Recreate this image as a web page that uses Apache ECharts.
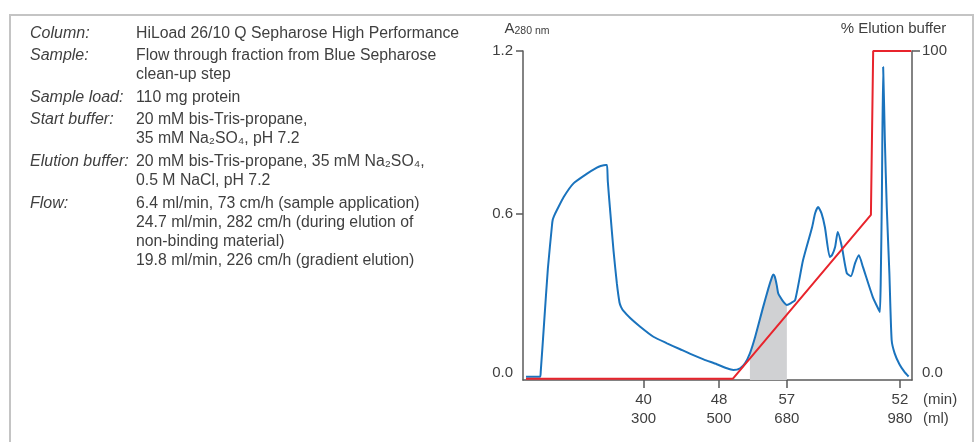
<!DOCTYPE html>
<html><head><meta charset="utf-8">
<script src="https://cdn.jsdelivr.net/npm/echarts@6/dist/echarts.min.js"></script>
<style>html,body{margin:0;padding:0;background:#fff}#c{width:976px;height:442px}</style>
</head><body><div id="c"></div>
<script>
// Absorbance trace (x in ml, y in A280)
const blueMl = [-12, 25, 27, 36, 46, 57, 59, 62, 70, 88, 114, 150, 176, 186, 200, 203, 205, 212, 220, 229, 236, 240, 246, 265, 291, 326, 362, 397, 424, 459, 494, 521, 538, 556, 569, 582, 596, 617, 631, 641, 644, 648, 653, 657, 662, 671, 680, 691, 702, 723, 747, 755, 763, 772, 781, 794, 800, 808, 815, 826, 839, 850, 861, 871, 882, 908, 925, 927, 929, 932, 935.5, 940, 945, 952, 958, 966, 979, 992, 1003];
const blueA  = [0.002, 0.002, 0.02, 0.2, 0.4, 0.56, 0.58, 0.592, 0.615, 0.663, 0.713, 0.749, 0.771, 0.777, 0.781, 0.781, 0.72, 0.6, 0.468, 0.345, 0.275, 0.259, 0.245, 0.217, 0.186, 0.149, 0.125, 0.103, 0.086, 0.066, 0.048, 0.033, 0.027, 0.033, 0.051, 0.088, 0.149, 0.258, 0.327, 0.37, 0.378, 0.37, 0.34, 0.309, 0.296, 0.277, 0.266, 0.273, 0.284, 0.431, 0.552, 0.603, 0.626, 0.603, 0.552, 0.442, 0.45, 0.479, 0.534, 0.479, 0.383, 0.372, 0.42, 0.449, 0.405, 0.295, 0.245, 0.24, 0.35, 0.651, 1.141, 0.872, 0.627, 0.382, 0.137, 0.088, 0.047, 0.02, 0.003];
// Gradient (% elution buffer)
const gradMl  = [-12, 537, 903, 909, 1010];
const gradPct = [0, 0, 50, 100, 100];
// Pooled fraction (shaded)
const poolFrom = 582, poolTo = 680;
// Axis ticks
const xTickMl  = [300, 500, 680, 980];
const xTickMin = [40, 48, 57, 52];
const yLeftTicks  = [0, 0.6, 1.2];
const yRightTicks = [0, 100];
// Conditions text
const infoLabels = ['Column:', 'Sample:', '', 'Sample load:', 'Start buffer:', '', 'Elution buffer:', '', 'Flow:', '', '', ''];
const infoValues = ['HiLoad 26/10 Q Sepharose High Performance', 'Flow through fraction from Blue Sepharose', 'clean-up step', '110 mg protein', '20 mM bis-Tris-propane,', '35 mM Na₂SO₄, pH 7.2', '20 mM bis-Tris-propane, 35 mM Na₂SO₄,', '0.5 M NaCl, pH 7.2', '6.4 ml/min, 73 cm/h (sample application)', '24.7 ml/min, 282 cm/h (during elution of', 'non-binding material)', '19.8 ml/min, 226 cm/h (gradient elution)'];
const infoY = [34, 56, 75, 98, 120, 139, 162, 181, 204, 223, 242, 261];

const FONT = "'Liberation Sans', 'DejaVu Sans', Arial, sans-serif";
const TXT = '#3f3f3f';
const AX = '#5a5a5a';

const blueData = blueMl.map((x, i) => [x, blueA[i]]);
const poolData = blueData.filter(p => p[0] >= poolFrom && p[0] <= poolTo);
const gradData = gradMl.map((x, i) => [x, gradPct[i]]);

const graphics = [{
  type: 'rect', shape: {x: 10, y: 15, width: 963, height: 480},
  style: {fill: 'none', stroke: '#c4c4c4', lineWidth: 2}, silent: true
}];
infoY.forEach((y, i) => {
  if (infoLabels[i]) graphics.push({type: 'text', x: 30, y: y, style: {text: infoLabels[i], font: 'italic 16px ' + FONT, fill: TXT, textVerticalAlign: 'middle'}});
  graphics.push({type: 'text', x: 136, y: y, style: {text: infoValues[i], font: '15.8px ' + FONT, fill: TXT, textVerticalAlign: 'middle'}});
});

const chart = echarts.init(document.getElementById('c'));
chart.setOption({
  animation: false,
  textStyle: {fontFamily: FONT},
  grid: {left: 523, right: 64, top: 51, bottom: 62, containLabel: false, outerBoundsMode: 'none'},
  xAxis: {
    type: 'value', min: -20, max: 1012,
    axisLine: {onZero: false, lineStyle: {color: AX, width: 1.5}},
    axisTick: {customValues: xTickMl, length: 8, lineStyle: {color: AX, width: 1.5}},
    axisLabel: {customValues: xTickMl, margin: 10, lineHeight: 19, fontSize: 15, color: TXT,
      formatter: v => { const i = xTickMl.indexOf(v); return xTickMin[i] + '\n' + v; }},
    splitLine: {show: false},
    name: '(min)\n(ml)', nameLocation: 'end', nameGap: 11, nameMoveOverlap: false,
    nameTextStyle: {align: 'left', verticalAlign: 'top', lineHeight: 19, fontSize: 15, color: TXT, padding: [10, 0, 0, 0]}
  },
  yAxis: [{
    type: 'value', min: -0.01, max: 1.2, position: 'left',
    axisLine: {show: true, onZero: false, lineStyle: {color: AX, width: 1.5}},
    axisTick: {show: true, customValues: [0.6, 1.2], length: 7, lineStyle: {color: AX, width: 1.5}},
    axisLabel: {customValues: yLeftTicks, margin: 10, fontSize: 15, color: TXT,
      formatter: v => v === 0 ? '{z|0.0}' : v.toFixed(1),
      rich: {z: {fontSize: 15, color: TXT, padding: [0, 0, 9, 0]}}},
    splitLine: {show: false},
    name: '{a|A}{s|280 nm}', nameLocation: 'end', nameGap: 22, nameMoveOverlap: false,
    nameTextStyle: {align: 'center', verticalAlign: 'middle',
      rich: {a: {fontSize: 15, color: TXT, padding: [0, 0, 0, 8]}, s: {fontSize: 10.5, color: TXT, padding: [5, 0, 0, 0]}}}
  }, {
    type: 'value', min: -0.4, max: 100, position: 'right',
    axisLine: {show: true, onZero: false, lineStyle: {color: AX, width: 1.5}},
    axisTick: {show: true, customValues: [100], length: 8, lineStyle: {color: AX, width: 1.5}},
    axisLabel: {customValues: yRightTicks, margin: 10, fontSize: 15, color: TXT,
      formatter: v => v === 0 ? '{z|0.0}' : String(v),
      rich: {z: {fontSize: 15, color: TXT, padding: [0, 0, 12, 0]}}},
    splitLine: {show: false},
    name: '{t|% Elution buffer}', nameLocation: 'end', nameGap: 22, nameMoveOverlap: false,
    nameTextStyle: {align: 'center', verticalAlign: 'middle',
      rich: {t: {fontSize: 15, color: TXT, padding: [0, 37, 0, 0]}}}
  }],
  graphic: graphics,
  series: [{
    type: 'line', data: poolData, yAxisIndex: 0, symbol: 'none', smooth: 0.2,
    lineStyle: {width: 0}, areaStyle: {color: '#d0d1d3', opacity: 1, origin: 'start'}, z: 1, silent: true
  }, {
    type: 'line', data: blueData, yAxisIndex: 0, symbol: 'none', smooth: 0.2,
    lineStyle: {color: '#1a73bd', width: 2}, z: 3
  }, {
    type: 'line', data: gradData, yAxisIndex: 1, symbol: 'none',
    lineStyle: {color: '#e8242c', width: 2}, z: 4
  }]
});
</script></body></html>
